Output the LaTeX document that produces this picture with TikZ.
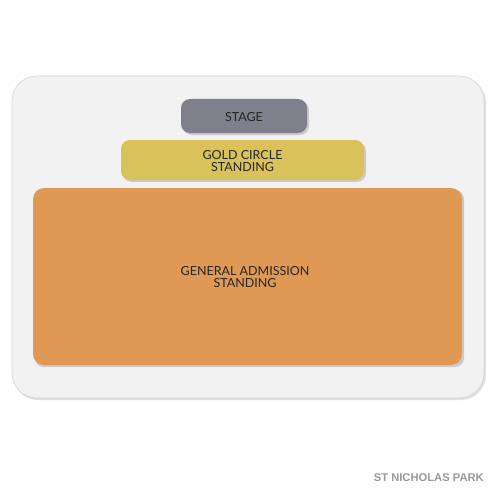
\documentclass[tikz,border=0pt]{standalone}
\usepackage{fontspec}
\setmainfont{Lato}
\newfontfamily\footfont{Liberation Sans}
\begin{document}
\begin{tikzpicture}[x=1pt,y=-1pt,
  panel/.style={fill=black!5, draw=black!17, line width=0.6pt, rounded corners=25pt},
  sec/.style={rounded corners=9pt, text=black!85, font=\fontsize{12.5}{12.5}\selectfont, align=center},
  shadowbox/.style={fill=black!30, rounded corners=9pt, opacity=0.6}
]
\useasboundingbox (0,0) rectangle (500,500);
\fill[white] (0,0) rectangle (500,500);
% panel shadow
\fill[black!12, rounded corners=25pt] (13,78) rectangle (486,400);
\draw[panel] (12,76) rectangle (484,398);
% shadows
\fill[shadowbox] (183,101) rectangle (309,135);
\fill[shadowbox] (123,142) rectangle (366,182);
\fill[shadowbox] (35,190) rectangle (464,367);
% sections
\fill[fill={rgb,255:red,128;green,128;blue,140}, rounded corners=9pt] (181,99) rectangle (307,133);
\node[sec] (stage) at (244,117) {STAGE};
\fill[fill={rgb,255:red,217;green,194;blue,90}, rounded corners=9pt] (121,140) rectangle (364,180);
\node[sec] (gold) at (242.5,161) {GOLD CIRCLE\\STANDING};
\fill[fill={rgb,255:red,224;green,152;blue,85}, rounded corners=11pt] (33,188) rectangle (462,365);
\node[sec] (ga) at (245,277) {GENERAL ADMISSION\\STANDING};
\node[font=\footfont\bfseries\fontsize{11.2}{12}\selectfont, text=black!40, anchor=east, inner sep=0pt] (foot) at (484,478) {ST NICHOLAS PARK};
\end{tikzpicture}
\end{document}
